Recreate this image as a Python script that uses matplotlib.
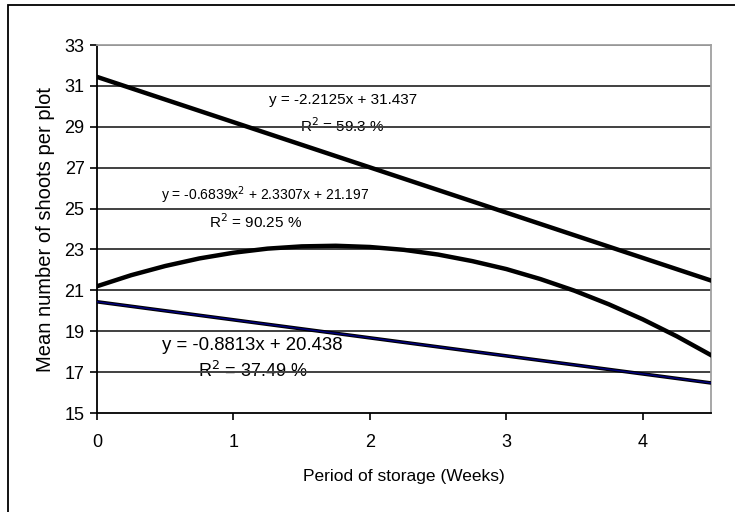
import matplotlib
matplotlib.use('Agg')
import matplotlib.pyplot as plt
from matplotlib.patches import Rectangle

plt.rcParams['font.family'] = ['Liberation Sans', 'DejaVu Sans']

# trend lines
x_lin = [0, 4.5]
y_top = [31.44, 21.48]
y_low = [20.44, 16.47]

x_quad = [0, 0.25, 0.5, 0.75, 1.0, 1.25, 1.5, 1.75, 2.0, 2.25, 2.5, 2.75, 3.0, 3.25, 3.5, 3.75, 4.0, 4.25, 4.5]
y_quad = [21.20, 21.74, 22.19, 22.56, 22.84, 23.04, 23.15, 23.18, 23.12, 22.98, 22.75, 22.43, 22.04, 21.55, 20.98, 20.32, 19.58, 18.75, 17.83]

yticks = list(range(15, 34, 2))
xticks = [0, 1, 2, 3, 4]

fig = plt.figure(figsize=(7.35, 5.12), dpi=100)
ax = fig.add_axes([97/735, 1-413/512, (711-97)/735, (413-45)/512])

# outer chart border
fig.patches.append(Rectangle((8/735, -0.05), 1.2, 1-5/512+0.05, transform=fig.transFigure,
                             fill=False, edgecolor='black', linewidth=1.3))

for yv in yticks[1:]:
    ax.axhline(yv, color='#404040', linewidth=1.4, zorder=1)

ax.plot(x_lin, y_top, color='black', linewidth=3.2, zorder=3)
ax.plot(x_quad, y_quad, color='black', linewidth=3.2, zorder=3)
ax.plot(x_lin, y_low, color='black', linewidth=2.6, zorder=3)
ax.plot(x_lin, y_low, color='#000080', linewidth=1.0, zorder=4)

ax.set_xlim(0, 4.5)
ax.set_ylim(15, 33)
ax.set_xticks(xticks)
ax.set_yticks(yticks)
ax.tick_params(direction='out', length=5, width=1.2, labelsize=13, pad=4)
ax.tick_params(axis='x', pad=10)

for s in ['left', 'bottom']:
    ax.spines[s].set_color('black')
    ax.spines[s].set_linewidth(1.3)
for s in ['top', 'right']:
    ax.spines[s].set_color('#a0a0a0')
    ax.spines[s].set_linewidth(1.3)

ax.set_ylabel('Mean number of shoots per plot', fontsize=14.5, labelpad=7)
ax.set_xlabel('Period of storage (Weeks)', fontsize=12.5, labelpad=13)

ax.text(1.8, 30.3, 'y = -2.2125x + 31.437', fontsize=11, ha='center', va='center', zorder=2)
ax.text(1.8, 29.05, 'R$^2$ = 59.3 %', fontsize=11, ha='center', va='center', zorder=0)
ax.text(1.23, 25.66, 'y = -0.6839x$^2$ + 2.3307x + 21.197', fontsize=10, ha='center', va='center', zorder=2)
ax.text(1.165, 24.34, 'R$^2$ = 90.25 %', fontsize=11, ha='center', va='center', zorder=2)
ax.text(1.135, 18.32, 'y = -0.8813x + 20.438', fontsize=13.4, ha='center', va='center', zorder=2)
ax.text(1.14, 17.05, 'R$^2$ = 37.49 %', fontsize=13, ha='center', va='center', zorder=0)

fig.savefig('out.png', dpi=100)
